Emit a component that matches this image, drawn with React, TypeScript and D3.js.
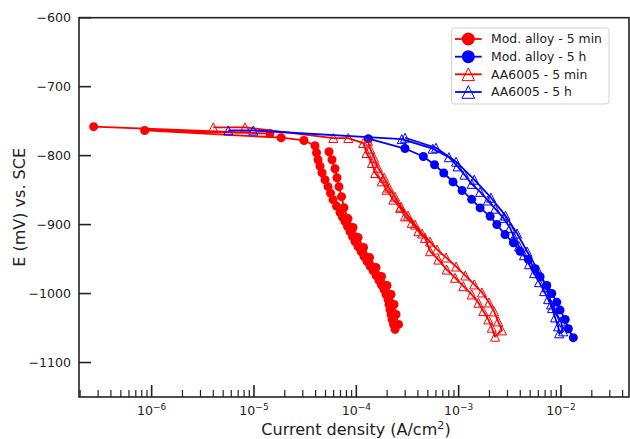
import React from 'react';
import * as d3 from 'd3';

// current density (A/cm2), potential (mV vs. SCE)
const modAlloy5min: [number, number][] = [
  [2.71e-7, -758], [1.43e-5, -768], [8.55e-7, -763.5], [1.84e-5, -774], [3.08e-5, -778],
  // down
  [3.947e-5, -785.7], [4.082e-5, -795.8], [4.222e-5, -805.9], [4.417e-5, -815.3], [4.62e-5, -824.8],
  [4.943e-5, -834.9], [5.289e-5, -845], [5.595e-5, -854.4], [5.918e-5, -863.8], [6.404e-5, -873.2],
  [6.93e-5, -882.6], [7.33e-5, -889.2], [7.754e-5, -895.7], [8.204e-5, -902.9], [8.678e-5, -910.2],
  [9.182e-5, -917.4], [9.712e-5, -924.6], [1.039e-4, -931.9], [1.112e-4, -939.1], [1.189e-4, -946.3],
  [1.272e-4, -953.6], [1.361e-4, -960.1], [1.456e-4, -966.6], [1.558e-4, -973.8], [1.667e-4, -981.1],
  [1.763e-4, -987.6], [1.866e-4, -994.1], [1.952e-4, -1001.3], [2.041e-4, -1008.6], [2.087e-4, -1015.8],
  [2.135e-4, -1023], [2.184e-4, -1030.3], [2.234e-4, -1037.5], [2.31e-4, -1044.7], [2.389e-4, -1052],
  // back up
  [2.585e-4, -1044.7], [2.444e-4, -1030.3], [2.336e-4, -1015.8], [2.184e-4, -1001.3], [1.995e-4, -988.3],
  [1.763e-4, -975.3], [1.558e-4, -962.2], [1.346e-4, -947.8], [1.176e-4, -933.3], [1.039e-4, -918.8],
  [9.284e-5, -904.3], [8.297e-5, -891.3], [7.582e-5, -875.4], [7.166e-5, -859.5], [6.773e-5, -845],
  [6.474e-5, -832], [6.19e-5, -819], [5.787e-5, -805.9], [5.409e-5, -794.4],
];

const modAlloy5h: [number, number][] = [
  [1.31e-4, -775.5], [2.99e-4, -789.7], [4.52e-4, -801.2], [5.81e-4, -813.2], [7.15e-4, -825.2],
  [8.81e-4, -838.1], [1.08e-3, -850.5], [1.34e-3, -863.4], [1.62e-3, -875.8], [2.03e-3, -888],
  [2.36e-3, -900], [2.84e-3, -914.5], [3.43e-3, -926.5], [3.98e-3, -938.6], [4.8e-3, -950.7],
  [5.58e-3, -964.1], [6.25e-3, -975.7], [7.27e-3, -988.3], [8.13e-3, -999.9], [9.1e-3, -1012.5],
  [9.8e-3, -1024], [1.1e-2, -1037.5], [1.18e-2, -1051], [1.32e-2, -1064],
];

const aa6005_5min: [number, number][] = [
  [4.0e-6, -759], [8.17e-6, -759], [5.96e-5, -774.5], [8.35e-5, -774.5], [1.17e-4, -781.8],
  [1.26e-4, -796.2], [1.42e-4, -810.7], [1.53e-4, -825.2], [1.77e-4, -837.3], [1.98e-4, -849.4],
  [2.3e-4, -863.8], [2.68e-4, -875.8], [2.99e-4, -888], [3.48e-4, -897.5], [4.04e-4, -909.7],
  [4.69e-4, -919.3], [5.25e-4, -938.6], [6.33e-4, -950.7], [7.65e-4, -965.2], [9.23e-4, -977.1],
  [1.11e-3, -989.3], [1.34e-3, -1001.3], [1.56e-3, -1013.3], [1.74e-3, -1025.5], [1.95e-3, -1037.5],
  [2.11e-3, -1049.5], [2.27e-3, -1062.5],
  [2.65e-3, -1053.4], [2.43e-3, -1040.4], [2.22e-3, -1025.9], [1.98e-3, -1012.9], [1.69e-3, -998.4],
  [1.42e-3, -986.8], [1.16e-3, -973.8], [9.44e-4, -960.8], [7.54e-4, -947.8], [6.15e-4, -936.2],
  [5.25e-4, -924.6], [4.39e-4, -913], [3.75e-4, -900], [3.2e-4, -887], [2.73e-4, -874],
  [2.39e-4, -859.5], [2.09e-4, -846.5], [1.87e-4, -832], [1.63e-4, -817.5], [1.49e-4, -803],
  [1.36e-4, -790], [1.3e-4, -778.4],
];

const aa6005_5h: [number, number][] = [
  [5.61e-6, -763.5], [9.84e-6, -763.5], [2.78e-4, -776], [5.58e-4, -790], [8.02e-4, -802.3],
  [9.75e-4, -815.6], [1.14e-3, -827.6], [1.34e-3, -841], [1.62e-3, -852.5], [1.93e-3, -865],
  [2.27e-3, -876.9], [2.74e-3, -890.3], [3.18e-3, -904.8], [3.47e-3, -918.4], [3.89e-3, -931.4],
  [4.35e-3, -944.4], [4.87e-3, -957.5], [5.46e-3, -970.5], [6.11e-3, -983.5], [6.84e-3, -996.5],
  [7.48e-3, -1008.1], [8.19e-3, -1021.1], [8.75e-3, -1034.6], [9.37e-3, -1047.6], [9.59e-3, -1057.7],
  [1.05e-2, -1054.8], [1.0e-2, -1040.4], [8.0e-3, -1015.8], [7.31e-3, -991.2], [5.9e-3, -965.1],
  [4.67e-3, -939.1], [3.72e-3, -913], [2.87e-3, -887], [2.07e-3, -861], [1.42e-3, -834.9],
  [9.44e-4, -808.8], [6.01e-4, -788.6], [2.99e-4, -774.1],
];

const seriesNames = ['Mod. alloy - 5 min', 'Mod. alloy - 5 h', 'AA6005 - 5 min', 'AA6005 - 5 h'];
const seriesColors = ['#ff0000', '#0000ff', '#ff0000', '#0000ff'];
const seriesMarkers = ['circle', 'circle', 'triangle', 'triangle'];
const seriesData = [modAlloy5min, modAlloy5h, aa6005_5min, aa6005_5h];

const yTicks = [-600, -700, -800, -900, -1000, -1100];
const xMajorExps = [-6, -5, -4, -3, -2];

const W = 630;
const H = 439;
const FONT = 'DejaVu Sans, sans-serif';
const INK = '#222';

const Marker = ({ kind, x, y, color, size }: { kind: string; x: number; y: number; color: string; size: number }) => {
  if (kind === 'circle') return <circle cx={x} cy={y} r={size} fill={color} />;
  const s = size;
  return (
    <path
      d={`M${x},${y - s}L${x + s},${y + s}L${x - s},${y + s}Z`}
      fill="none"
      stroke={color}
      strokeWidth={1}
    />
  );
};

const App = () => {
  const x = d3.scaleLog().domain([1.95e-7, 4.62e-2]).range([79, 629]);
  const y = d3.scaleLinear().domain([-1150, -600]).range([397, 17.7]);
  const [x0, x1] = x.range();
  const [y0, y1] = y.range();

  const line = d3
    .line<[number, number]>()
    .x((d) => x(d[0]))
    .y((d) => y(d[1]));

  // minor ticks: 2..9 x each decade inside the domain
  const minor: number[] = [];
  for (let e = -7; e <= -2; e++) {
    for (let m = 2; m <= 9; m++) {
      const v = m * Math.pow(10, e);
      if (v > x.domain()[0] && v < x.domain()[1]) minor.push(v);
    }
  }

  const legX = 451.5;
  const legY = 28;
  const rowY = [39, 56.7, 74.3, 92];

  return (
    <svg
      width={W}
      height={H}
      style={{ position: 'absolute', left: 0, top: 0, background: '#fff' }}
      fontFamily={FONT}
    >
      <rect width={W} height={H} fill="#fff" />

      {/* data */}
      {seriesData.map((data, i) => (
        <g key={seriesNames[i]}>
          <path d={line(data) || ''} fill="none" stroke={seriesColors[i]} strokeWidth={1.8} strokeLinejoin="round" />
          {data.map((d, j) => (
            <Marker
              key={j}
              kind={seriesMarkers[i]}
              x={x(d[0])}
              y={y(d[1])}
              color={seriesColors[i]}
              size={seriesMarkers[i] === 'circle' ? 4.5 : 4.5}
            />
          ))}
        </g>
      ))}

      {/* frame */}
      <rect x={x0} y={y1} width={x1 - x0} height={y0 - y1} fill="none" stroke={INK} strokeWidth={1.6} />

      {/* y ticks */}
      {yTicks.map((t) => (
        <g key={t}>
          <line x1={x0} x2={x0 + 12} y1={y(t)} y2={y(t)} stroke={INK} strokeWidth={1.6} />
          <text x={71} y={y(t)} dy="0.35em" textAnchor="end" fontSize={12.6} fill={INK}>
            {'\u2212' + Math.abs(t)}
          </text>
        </g>
      ))}

      {/* x ticks */}
      {minor.map((v) => (
        <line key={v} x1={x(v)} x2={x(v)} y1={y0} y2={y0 - 7} stroke={INK} strokeWidth={1.2} />
      ))}
      {xMajorExps.map((e) => {
        const px = x(Math.pow(10, e));
        return (
          <g key={e}>
            <line x1={px} x2={px} y1={y0} y2={y0 - 12} stroke={INK} strokeWidth={1.6} />
            <text x={px} y={415} textAnchor="middle" fontSize={12.6} fill={INK}>
              10
              <tspan dy={-5.5} fontSize={9}>
                {'\u2212' + Math.abs(e)}
              </tspan>
            </text>
          </g>
        );
      })}

      {/* axis labels */}
      <text x={(x0 + x1) / 2 + 2} y={435} textAnchor="middle" fontSize={16} fill={INK}>
        Current density (A/cm
        <tspan dy={-6} fontSize={11.2}>2</tspan>
        <tspan dy={6}>)</tspan>
      </text>
      <text
        transform={`translate(25,${(y0 + y1) / 2}) rotate(-90)`}
        textAnchor="middle"
        fontSize={16}
        fill={INK}
      >
        E (mV) vs. SCE
      </text>

      {/* legend */}
      <rect x={legX} y={legY} width={157.5} height={76} rx={3} fill="#fff" fillOpacity={0.8} stroke="#d3d3d3" strokeWidth={1} />
      {seriesNames.map((name, i) => (
        <g key={name}>
          <line x1={455} x2={481.7} y1={rowY[i]} y2={rowY[i]} stroke={seriesColors[i]} strokeWidth={1.8} />
          <Marker
            kind={seriesMarkers[i]}
            x={468.3}
            y={rowY[i]}
            color={seriesColors[i]}
            size={seriesMarkers[i] === 'circle' ? 6.5 : 6.3}
          />
          <text x={491} y={rowY[i]} dy="0.36em" fontSize={12.4} fill={INK}>
            {name}
          </text>
        </g>
      ))}
    </svg>
  );
};

export default App;
